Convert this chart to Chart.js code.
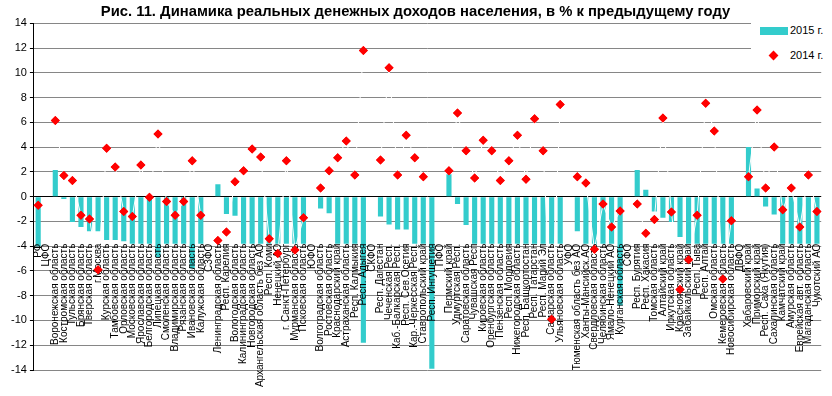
<!DOCTYPE html>
<html><head><meta charset="utf-8">
<script src="https://cdn.jsdelivr.net/npm/chart.js@4/dist/chart.umd.min.js"></script>
<style>
html,body{margin:0;padding:0;background:#fff;}
#wrap{position:relative;width:832px;height:396px;overflow:hidden;}
#legend{position:absolute;left:751px;top:19px;width:81px;height:45px;background:#fff;font-family:"Liberation Sans",Arial,sans-serif;font-size:11px;color:#000;}
#legend .sw{position:absolute;left:9px;top:8px;width:28px;height:8px;background:#33CCCC;}
#legend .dm{position:absolute;left:19px;top:33px;width:7px;height:7px;background:#ff0000;transform:rotate(45deg);}
#legend .t1{position:absolute;left:39px;top:5px;}
#legend .t2{position:absolute;left:39px;top:30px;}
</style></head>
<body><div id="wrap"><canvas id="c" width="832" height="396"></canvas>
<div id="legend"><div class="sw"></div><div class="t1">2015 г.</div><div class="dm"></div><div class="t2">2014 г.</div></div></div>
<script>
const categories = ["РФ","ЦФО","Воронежская область","Костромская область","Тульская область","Брянская область","Тверская область","г.Москва","Курская область","Тамбовская область","Орловская область","Московская область","Ярославская область","Белгородская область","Липецкая область","Смоленская область","Владимирская область","Рязанская область","Ивановская область","Калужская область","СЗФО","Ленинградская область","Респ. Карелия","Вологодская область","Калининградская область","Новгородская область","Архангельская область без АО","Респ. Коми","Ненецкий АО","г. Санкт-Петербург","Мурманская область","Псковская область","ЮФО","Волгоградская область","Ростовская область","Краснодарский край","Астраханская область","Респ. Калмыкия","Респ. Адыгея","СКФО","Респ. Дагестан","Чеченская Респ.","Каб.-Балкарская Респ.","Респ. Сев.Осетия","Кар.-Черкесская Респ.","Ставропольский край","Респ. Ингушетия","ПФО","Пермский край","Удмуртская Респ.","Саратовская область","Чувашская Респ","Кировская область","Оренбургская область","Пензенская область","Респ. Мордовия","Нижегородская область","Респ. Башкортостан","Респ. Татарстан","Респ. Марий Эл","Самарская область","Ульяновская область","УФО","Тюменская область без АО","Ханты-Мансийск.АО","Свердловская область","Челябинская область","Ямало-Ненецкий АО","Курганская область","СФО","Респ. Бурятия","Респ. Хакасия","Томская область","Алтайский край","Иркутская область","Красноярский край","Забайкальский край","Респ. Тыва","Респ. Алтай","Омская область","Кемеровская область","Новосибирская область","ДВФО","Хабаровский край","Приморский край","Респ. Саха (Якутия)","Сахалинская область","Камчатский край","Амурская область","Еврейская авт. область","Магаданская область","Чукотский АО"];

const values2015 = [-4.0,null,2.15,-0.2,-2.05,-2.45,-2.8,-2.8,-3.5,-3.5,-3.6,-3.8,-3.8,-3.8,-4.9,-3.8,-3.8,-3.8,-5.8,-3.8,
null,1.0,-1.4,-1.55,-3.8,-3.8,-3.8,-3.8,-3.8,-3.8,-3.8,-3.8,
null,-0.95,-1.35,-3.8,-3.8,-3.8,-11.8,
null,-1.6,-2.25,-2.65,-2.65,-3.8,-3.8,-13.9,
null,1.8,-0.6,-2.3,-3.8,-3.8,-3.8,-3.8,-3.8,-3.8,-3.8,-3.8,-3.8,-3.8,-3.8,
null,-2.8,-3.8,-3.8,-3.8,-3.8,-8.8,
null,2.15,0.55,-1.2,-1.7,-2.05,-3.25,-3.8,-3.8,-3.8,-3.8,-3.8,-3.8,
null,4.0,0.65,-0.8,-1.45,-3.8,-3.8,-3.8,-3.8,-3.8];

const values2014 = [-0.7,null,6.15,1.7,1.3,-1.5,-1.8,-5.9,3.9,2.4,-1.2,-1.6,2.55,-0.05,5.05,-0.4,-1.5,-0.4,2.9,-1.5,
null,-3.55,-2.85,1.2,2.1,3.85,3.2,-3.4,-4.6,2.9,-4.3,-1.7,
null,0.7,2.1,3.15,4.5,1.75,11.8,
null,2.95,10.4,1.75,4.95,3.15,1.6,null,
null,2.1,6.75,3.7,1.5,4.55,3.7,1.3,2.9,4.95,1.4,6.3,3.7,-9.9,7.45,
null,1.6,1.1,-4.25,-0.6,-2.45,-1.15,
null,-0.6,-2.95,-1.85,6.35,-1.25,-7.5,-5.1,-1.5,7.55,5.3,-6.65,-1.95,
null,1.6,7.0,0.7,4.0,-1.05,0.7,-2.45,1.75,-1.2];

const yMin = -14, yMax = 14, yStep = 2;
const seriesNames = ["2015 г.","2014 г."];
const titleText = "Рис. 11. Динамика реальных денежных доходов населения, в % к предыдущему году";

const FONT = '"Liberation Sans", Arial, sans-serif';

const pointsOnTop = {
  id: 'pointsOnTop',
  afterDraw(chart) {
    const meta = chart.getDatasetMeta(1);
    if (meta && !meta.hidden) meta.controller.draw();
  }
};

new Chart(document.getElementById('c'), {
  type: 'bar',
  data: {
    labels: categories,
    datasets: [
      { type: 'line', label: seriesNames[1] + ' line', data: values2014, borderColor: '#ffffff', borderWidth: 1,
        pointRadius: 0, spanGaps: false, order: 0, fill: false },
      { type: 'line', label: seriesNames[1], data: values2014, showLine: false, pointStyle: 'rectRot',
        pointRadius: 4.5, pointBackgroundColor: '#ff0000', pointBorderColor: '#ff0000', pointBorderWidth: 0, order: -1 },
      { type: 'bar', label: seriesNames[0], data: values2015, backgroundColor: '#33CCCC', borderWidth: 0,
        barPercentage: 0.6, categoryPercentage: 1.0, order: 1 }
    ]
  },
  options: {
    responsive: false,
    animation: false,
    layout: { padding: { left: 8, right: 9, top: 2, bottom: 26 } },
    plugins: {
      legend: { display: false },
      tooltip: { enabled: false },
      title: { display: true, text: titleText, color: '#000',
        font: { family: FONT, size: 14.8, weight: 'bold', lineHeight: 1.1 }, padding: { top: 2, bottom: 3 } }
    },
    scales: {
      x: {
        type: 'category',
        position: { y: -3.55 },
        offset: true,
        grid: { display: false, drawTicks: false },
        border: { display: false },
        ticks: { autoSkip: false, minRotation: 90, maxRotation: 90, padding: 3, color: '#000', z: 1,
          font: { family: FONT, size: 10 } }
      },
      y: {
        min: yMin, max: yMax,
        ticks: { stepSize: yStep, color: '#000', padding: 3, font: { family: FONT, size: 11 } },
        grid: { color: (c) => (c.tick && c.tick.value === 0 ? '#000000' : '#868686'), lineWidth: 1,
          tickLength: 4, tickColor: '#000' },
        border: { display: true, color: '#000', width: 1 }
      }
    }
  },
  plugins: [pointsOnTop]
});
</script></body></html>
